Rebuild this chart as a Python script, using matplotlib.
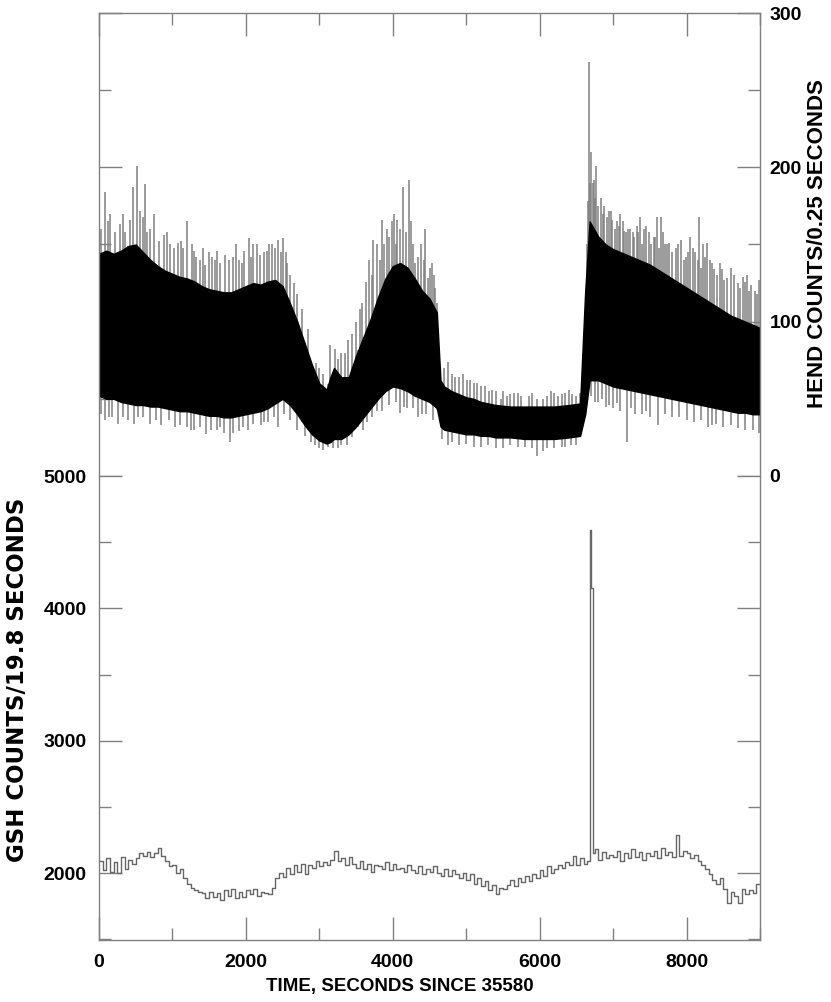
import numpy as np
import matplotlib
matplotlib.use("Agg")
import matplotlib.pyplot as plt
from matplotlib.ticker import MultipleLocator

# ---- HEND counts / 0.25 s : dense band (lo/hi of the black core) ----------
HEND_T = [0, 100, 200, 300, 400, 500, 600, 700, 800, 900,
          1000, 1100, 1200, 1300, 1400, 1500, 1600, 1700, 1800, 1900,
          2000, 2100, 2200, 2300, 2400, 2500, 2600, 2700, 2800, 2900,
          3000, 3100, 3150, 3200, 3300, 3400, 3500, 3600, 3700, 3800, 3900,
          4000, 4100, 4200, 4300, 4400, 4500, 4600, 4650, 4700, 4800, 4900,
          5000, 5100, 5200, 5300, 5400, 5600, 5800, 6000, 6200, 6400, 6550, 6620, 6680,
          6800, 6900, 7000, 7100, 7200, 7300, 7400, 7500, 7600, 7700, 7800, 7900,
          8000, 8100, 8200, 8300, 8400, 8500, 8600, 8700, 8800, 8900, 9000]
HEND_HI = [144, 146, 144, 146, 149, 150, 145, 140, 136, 133,
           131, 129, 128, 126, 123, 121, 120, 119, 119, 121,
           123, 125, 124, 126, 127, 123, 112, 100, 86, 72,
           60, 56, 64, 70, 64, 64, 78, 90, 102, 116, 128,
           136, 138, 135, 128, 120, 115, 106, 62, 58, 55, 53,
           51, 50, 48, 47, 46, 45, 45, 45, 45, 46, 47, 120, 165,
           155, 150, 147, 145, 143, 141, 139, 137, 134, 131, 128, 125,
           122, 119, 116, 113, 110, 107, 104, 102, 100, 98, 96]
HEND_LO = [52, 50, 50, 48, 47, 46, 46, 45, 45, 44,
           43, 42, 42, 41, 40, 39, 39, 38, 38, 39,
           40, 41, 42, 44, 47, 50, 46, 40, 33, 27,
           23, 21, 22, 24, 24, 27, 32, 38, 44, 50, 55,
           58, 57, 55, 52, 50, 48, 44, 32, 30, 29, 28,
           27, 27, 26, 26, 25, 25, 24, 24, 24, 25, 26, 40, 62,
           62, 60, 58, 57, 56, 55, 54, 53, 52, 51, 50, 49,
           48, 47, 46, 45, 44, 43, 42, 41, 41, 40, 40]

# isolated HEND spikes (time [s], counts)
SPK_UP_T = [86, 150, 282, 350, 464, 518, 560, 623, 700, 750, 886, 960,
            1077, 1150, 1204, 1260, 1327, 1380, 1441, 1500, 1577, 1650, 1720,
            1827, 1900, 1980, 2041, 2100, 2191, 2282, 2350, 2441, 2509, 2560,
            2650, 2768, 2950, 3050, 3213, 3300, 3395, 3500, 3577, 3632, 3680,
            3736, 3780, 3850, 3920, 3986, 4020, 4063, 4100, 4145, 4227, 4250,
            4304, 4380, 4440, 4500, 4560, 4604, 4750, 4800, 4900, 5005, 5100,
            5200, 5309, 5400, 5468, 5600, 5700, 5850, 5968, 6100, 6200, 6300,
            6445, 6500, 6659, 6673, 6700, 6720, 6741, 6773, 6830, 6877, 6940,
            6991, 7050, 7100, 7150, 7200, 7264, 7320, 7364, 7420, 7491, 7550,
            7595, 7650, 7700, 7764, 7850, 7923, 7991, 8050, 8120, 8173, 8230,
            8277, 8320, 8377, 8450, 8513, 8600, 8700, 8763, 8820, 8877, 8930, 8991,
            30, 120, 220, 320, 420, 600, 660, 820, 920, 1020, 1110, 1290, 1410,
            1540, 1610, 1770, 1860, 1950, 2070, 2150, 2240, 2320, 2400, 2480,
            2540, 2600, 2700, 2850, 3000, 3150, 3250, 3350, 3450, 3550, 3720,
            3820, 3880, 3950, 4050, 4180, 4280, 4340, 4420, 4480, 4530, 4580,
            4700, 4850, 4950, 5050, 5150, 5250, 5350, 5500, 5550, 5650, 5750,
            5900, 6050, 6150, 6250, 6350, 6400, 6550, 6640, 6690, 6760, 6800,
            6860, 6910, 6970, 7020, 7080, 7130, 7180, 7230, 7290, 7340, 7390,
            7450, 7520, 7570, 7620, 7680, 7730, 7800, 7880, 7960, 8020, 8090,
            8150, 8200, 8250, 8350, 8420, 8480, 8550, 8650, 8730, 8790, 8850, 8960]
SPK_UP_V = [184, 170, 163, 158, 187, 201, 172, 189, 160, 170, 156, 150,
            151, 148, 165, 150, 142, 140, 137, 145, 140, 138, 143,
            142, 140, 146, 154, 150, 143, 146, 150, 153, 154, 138,
            125, 108, 73, 66, 82, 80, 88, 100, 112, 126, 140,
            153, 150, 166, 160, 165, 170, 166, 160, 187, 192, 165,
            138, 150, 160, 135, 130, 112, 74, 66, 64, 62, 60,
            58, 55, 55, 50, 53, 54, 52, 50, 52, 54, 53,
            53, 52, 178, 268, 210, 190, 192, 201, 180, 175, 172,
            166, 165, 170, 159, 160, 158, 162, 168, 160, 158, 155,
            168, 168, 150, 151, 148, 153, 142, 155, 145, 168, 150,
            151, 140, 134, 138, 127, 135, 125, 129, 130, 124, 120, 127,
            160, 165, 158, 170, 166, 168, 158, 152, 158, 148, 152, 146, 148,
            142, 146, 140, 150, 138, 142, 150, 145, 150, 148, 145,
            145, 130, 118, 95, 70, 85, 76, 80, 92, 108, 130,
            140, 150, 155, 150, 158, 150, 142, 140, 128, 138, 122,
            70, 64, 66, 62, 60, 58, 56, 55, 52, 54, 52,
            54, 50, 55, 52, 54, 56, 54, 150, 190, 180, 175,
            170, 168, 172, 160, 162, 165, 158, 160, 155, 158, 150,
            162, 150, 155, 148, 158, 150, 145, 150, 140, 145, 148,
            140, 135, 142, 138, 130, 134, 128, 130, 122, 126, 120, 118]
SPK_DN_T = [77, 180, 259, 400, 532, 700, 850, 1032, 1200, 1300, 1463, 1600,
            1700, 1782, 1900, 2032, 2200, 2300, 2441, 2600, 2800, 2941, 3050,
            3122, 3250, 3372, 3532, 3600, 3713, 3850, 4100, 4200, 4350, 4450,
            4672, 4800, 5000, 5195, 5400, 5600, 5800, 5968, 6100, 6300, 6422,
            6800, 6900, 7000, 7195, 7400, 7605, 7800, 8000, 8286, 8400, 8600,
            8800, 8991,
            30, 130, 330, 480, 600, 780, 950, 1100, 1250, 1380, 1530, 1650,
            1830, 1960, 2100, 2250, 2380, 2520, 2700, 2880, 3000, 3180, 3300,
            3450, 3650, 3780, 3950, 4050, 4150, 4280, 4400, 4550, 4750, 4900,
            5100, 5300, 5500, 5700, 5900, 6050, 6200, 6350, 6500, 6700, 6750,
            6850, 6950, 7050, 7100, 7250, 7300, 7450, 7500, 7700, 7900, 8100,
            8200, 8350, 8500, 8700, 8900]
SPK_DN_V = [36, 38, 34, 36, 38, 34, 33, 32, 32, 30, 27, 30,
            28, 22, 29, 30, 33, 35, 32, 36, 26, 20, 17,
            19, 18, 20, 32, 30, 38, 42, 41, 44, 38, 40,
            24, 22, 21, 19, 18, 20, 19, 13, 18, 19, 20,
            48, 45, 44, 22, 40, 33, 38, 36, 32, 34, 33,
            30, 28,
            40, 38, 38, 34, 38, 36, 36, 33, 30, 32, 30, 32,
            28, 32, 34, 35, 38, 40, 30, 22, 18, 18, 20,
            25, 35, 42, 46, 48, 45, 44, 40, 36, 20, 20,
            19, 20, 18, 19, 18, 16, 18, 19, 20, 52, 48,
            50, 46, 47, 42, 44, 40, 42, 38, 40, 38, 35,
            36, 33, 32, 31, 30]

# ---- GSH counts / 19.8 s (50 s steps) --------------------------------------
GSH_T = np.arange(0, 9000, 50)
GSH_V = [2090, 2020, 2110, 2010, 2080, 2000, 2120, 2030, 2100, 2070,
         2110, 2150, 2130, 2160, 2120, 2150, 2190, 2130, 2090, 2050,
         2060, 2000, 2030, 1960, 1920, 1890, 1870, 1860, 1850, 1810,
         1860, 1820, 1850, 1800, 1870, 1830, 1880, 1810, 1860, 1820,
         1870, 1840, 1880, 1830, 1860, 1850, 1840, 1890, 1960, 2000,
         1970, 2040, 1990, 2060, 2010, 2070, 1990, 2060, 2040, 2090,
         2050, 2080, 2060, 2100, 2170, 2090, 2110, 2060, 2120, 2070,
         2040, 2090, 2030, 2070, 2010, 2060, 2050, 2030, 2080, 2020,
         2070, 2030, 2040, 2010, 2060, 2020, 2000, 2050, 1990, 2030,
         2010, 2050, 2000, 1980, 2030, 1980, 2020, 1990, 1960, 2000,
         1950, 1990, 1920, 1960, 1900, 1940, 1870, 1910, 1840, 1890,
         1880, 1910, 1950, 1900, 1960, 1930, 1980, 1940, 1990, 1960,
         2020, 1980, 2050, 2000, 2030, 2060, 2040, 2080, 2060, 2130,
         2060, 2110, 2070, 2090, 4150, 2180, 2100, 2160, 2110, 2140,
         2120, 2170, 2090, 2150, 2110, 2180, 2120, 2160, 2100, 2150,
         2130, 2170, 2110, 2190, 2140, 2160, 2120, 2290, 2130, 2170,
         2150, 2110, 2140, 2090, 2060, 2030, 1990, 1950, 1920, 1960,
         1880, 1770, 1860, 1830, 1770, 1880, 1840, 1870, 1850, 1920]
GSH_PEAK_T = [6680, 6720]          # narrow bins around the burst
GSH_PEAK_V = [4590, 2150]

GRAY = "#808080"
FONT = ["Liberation Sans", "DejaVu Sans"]
plt.rcParams["font.family"] = FONT
plt.rcParams["font.weight"] = "bold"

fig = plt.figure(figsize=(8.31, 10.02), dpi=100)
L, R = 99 / 831, 760 / 831
ax1 = fig.add_axes([L, 1 - 476 / 1002, R - L, (476 - 13) / 1002])
ax2 = fig.add_axes([L, 1 - 940 / 1002, R - L, (940 - 476) / 1002])

# HEND (upper half)
up_base = np.interp(SPK_UP_T, HEND_T, HEND_LO)
dn_base = np.interp(SPK_DN_T, HEND_T, HEND_HI)
ax1.vlines(SPK_UP_T, up_base, SPK_UP_V, color=GRAY, lw=1.1, zorder=1)
ax1.vlines(SPK_DN_T, SPK_DN_V, dn_base, color=GRAY, lw=1.1, zorder=1)
ax1.fill_between(HEND_T, HEND_LO, HEND_HI, facecolor="black",
                 edgecolor="black", lw=1.0, zorder=2)

# GSH (lower half)
t_all = np.concatenate([GSH_T, GSH_PEAK_T, [9000]])
v_all = np.concatenate([GSH_V, GSH_PEAK_V, [GSH_V[-1]]])
order = np.argsort(t_all, kind="stable")
ax2.step(t_all[order], v_all[order], where="post", color="#666666", lw=1.0)

for ax in (ax1, ax2):
    ax.set_xlim(0, 9000)
    ax.xaxis.set_major_locator(MultipleLocator(2000))
    ax.xaxis.set_minor_locator(MultipleLocator(1000))
    for sp in ax.spines.values():
        sp.set_color(GRAY)
        sp.set_linewidth(1.0)
    ax.tick_params(which="both", direction="in", color=GRAY, width=1.0,
                   left=True, right=True, labelsize=14)
    ax.tick_params(which="major", length=16.5)
    ax.tick_params(which="minor", length=8.6)

ax1.set_ylim(0, 300)
ax1.yaxis.set_major_locator(MultipleLocator(100))
ax1.yaxis.set_minor_locator(MultipleLocator(50))
ax1.spines["bottom"].set_visible(False)
ax1.tick_params(axis="x", which="both", bottom=False, top=True,
                labelbottom=False, labeltop=False)
ax1.tick_params(axis="y", which="both", labelleft=False, labelright=True, pad=7)
ax1.yaxis.set_label_position("right")
ax1.set_ylabel("HEND COUNTS/0.25 SECONDS", fontsize=16, fontweight="bold")
ax1.yaxis.set_label_coords(1.071, 0.503)

ax2.set_ylim(1494, 5000)
ax2.yaxis.set_major_locator(MultipleLocator(1000))
ax2.yaxis.set_minor_locator(MultipleLocator(500))
ax2.spines["top"].set_visible(False)
ax2.tick_params(axis="x", which="both", top=False, bottom=True, pad=10)
ax2.tick_params(axis="y", which="both", labelleft=True, labelright=False, pad=9)
ax2.set_ylabel("GSH COUNTS/19.8 SECONDS", fontsize=16.5, fontweight="bold",
               family=["DejaVu Sans"])
ax2.yaxis.set_label_coords(-0.106, 0.56)
ax2.set_xlabel("TIME, SECONDS SINCE 35580", fontsize=13.5, fontweight="bold")
ax2.xaxis.set_label_coords(0.455, -0.082)

fig.savefig("out.png", dpi=100)
